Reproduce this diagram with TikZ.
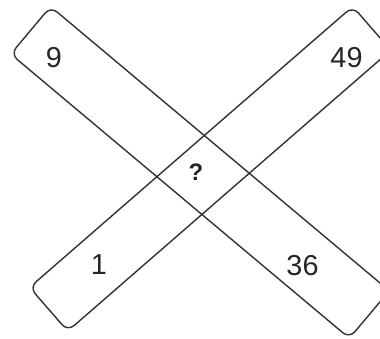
\documentclass[tikz,border=0pt]{standalone}
\usepackage{fontspec}
\setmainfont{Liberation Sans}
\usetikzlibrary{positioning}

\begin{document}
\begin{tikzpicture}[x=.025cm,y=-.025cm,
  band/.style={draw=black!80,line width=1pt,rounded corners=6pt,inner sep=0pt},
  num/.style={font=\fontsize{20.5}{24}\selectfont,text=black!85}]
\useasboundingbox (0,0) rectangle (380,338);
\node[band,minimum width=11.05cm,minimum height=1.55cm,rotate=-40] (down) at (200,172.4) {};
\node[band,minimum width=10.7cm,minimum height=1.45cm,rotate=41] (up) at (210.2,168.8) {};
\node[num] (nine) at (54,57.5) {9};
\node[num] (fortynine) at (346.5,57.5) {49};
\node[num] (one) at (99,265) {1};
\node[num] (thirtysix) at (302.5,265.5) {36};
\node[font=\fontsize{17}{20}\selectfont\bfseries,text=black!85] (ask) at (196,172) {?};
\end{tikzpicture}
\end{document}
